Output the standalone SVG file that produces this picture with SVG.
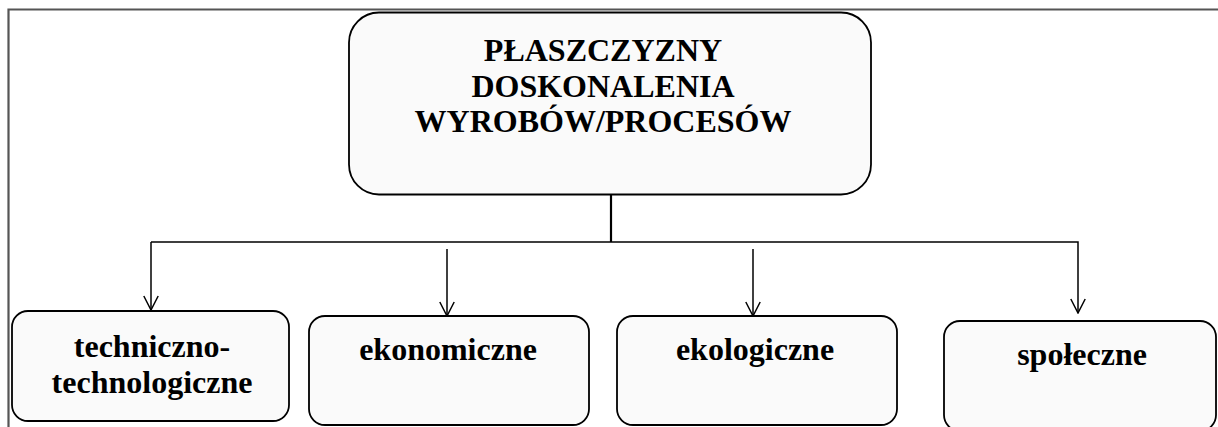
<svg xmlns="http://www.w3.org/2000/svg" width="1218" height="427" viewBox="0 0 1218 427">
  <defs>
    <marker id="arrow" viewBox="0 0 16 16" refX="15" refY="8" markerWidth="16" markerHeight="16" markerUnits="userSpaceOnUse" orient="auto">
      <path d="M1,0.8 L15,8 L1,15.2" fill="none" stroke="#000" stroke-width="1.5"/>
    </marker>
  </defs>
  <style>
    .box { fill: #fafafa; stroke: #000; stroke-width: 1.8; }
    .lbl { font-family: "Liberation Serif", "Times New Roman", serif; font-weight: bold; font-size: 32px; fill: #000; text-anchor: middle; }
    .wire { fill: none; stroke: #000; stroke-width: 1.5; }
  </style>
  <rect width="1218" height="427" fill="#fff"/>
  <!-- outer frame (top and left edges) -->
  <path d="M8.5,427 L8.5,9.5 L1218,9.5" fill="none" stroke="#555" stroke-width="2.2"/>

  <g id="root">
    <rect class="box" x="349" y="12.5" width="522" height="182" rx="30" ry="30"/>
    <text class="lbl" x="603" y="61">PŁASZCZYZNY</text>
    <text class="lbl" x="603" y="97">DOSKONALENIA</text>
    <text class="lbl" x="603" y="132">WYROBÓW/PROCESÓW</text>
  </g>

  <g id="connectors">
    <line x1="611" y1="195" x2="611" y2="242" stroke="#000" stroke-width="2.2"/>
    <path class="wire" d="M151,242 L1078,242 L1078,313" marker-end="url(#arrow)"/>
    <path class="wire" d="M151,242 L151,310" marker-end="url(#arrow)"/>
    <path class="wire" d="M447,249 L447,316" marker-end="url(#arrow)"/>
    <path class="wire" d="M753,249 L753,316" marker-end="url(#arrow)"/>
  </g>

  <g id="techniczno">
    <rect class="box" x="12" y="311" width="277" height="110" rx="16" ry="16"/>
    <text class="lbl" x="152" y="357">techniczno-</text>
    <text class="lbl" x="152" y="393">technologiczne</text>
  </g>

  <g id="ekonomiczne">
    <rect class="box" x="309" y="316" width="280" height="109" rx="16" ry="16"/>
    <text class="lbl" x="448" y="360">ekonomiczne</text>
  </g>

  <g id="ekologiczne">
    <rect class="box" x="617" y="316" width="280" height="109" rx="16" ry="16"/>
    <text class="lbl" x="755" y="360">ekologiczne</text>
  </g>

  <g id="spoleczne">
    <rect class="box" x="944" y="321" width="272" height="110" rx="16" ry="16"/>
    <text class="lbl" x="1082" y="365">społeczne</text>
  </g>
</svg>
